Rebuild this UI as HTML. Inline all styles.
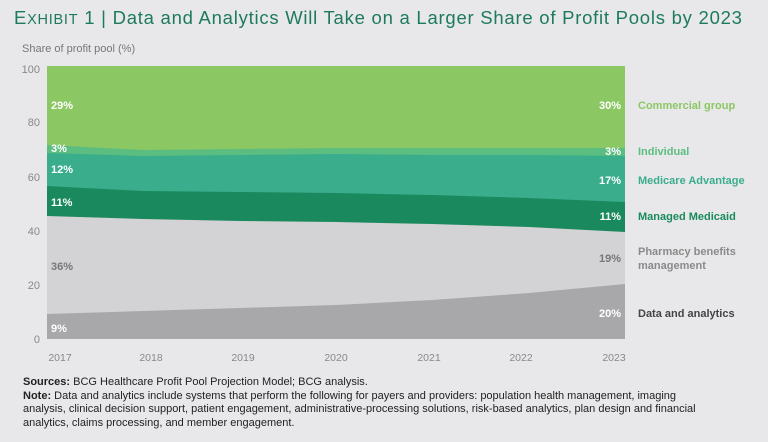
<!DOCTYPE html>
<html><head><meta charset="utf-8"><style>
body{margin:0;background:#e8e8ea;font-family:"Liberation Sans",sans-serif;}
.wrap{position:relative;width:768px;height:442px;overflow:hidden;background:#e8e8ea;}
.t{position:absolute;white-space:nowrap;}
</style></head><body><div class="wrap">
<div class="t" style="left:14px;top:7px;font-size:18.5px;letter-spacing:0.75px;color:#1e7a5c;">E<span style="font-size:14.5px">XHIBIT</span> 1 | Data and Analytics Will Take on a Larger Share of Profit Pools by 2023</div>
<div class="t" style="left:22px;top:43px;font-size:11px;color:#777;">Share of profit pool (%)</div>
<svg width="768" height="442" style="position:absolute;left:0;top:0">
<g font-family="Liberation Sans" font-size="11" fill="#888" text-anchor="end">
<text x="40" y="73">100</text><text x="40" y="126">80</text><text x="40" y="181">60</text><text x="40" y="235">40</text><text x="40" y="289">20</text><text x="40" y="343">0</text>
</g>
<rect x="47" y="66" width="578" height="273" fill="#8bc763"/>
<polygon points="47,145 143,150 240,149 336,148 432,148 529,148 625,148 625,339 47,339" fill="#5bbd80"/>
<polygon points="47,153 143,156 240,155 336,154 432,155 529,155 625,156 625,339 47,339" fill="#3aad8c"/>
<polygon points="47,186 143,191 240,192 336,193 432,195 529,198 625,202 625,339 47,339" fill="#1a8a5e"/>
<polygon points="47,216 143,219 240,221 336,222 432,224 529,227 625,232 625,339 47,339" fill="#d3d2d4"/>
<polygon points="47,314 143,311 240,308 336,305 432,300 529,293 625,284 625,339 47,339" fill="#a8a7a9"/>
<g font-family="Liberation Sans" font-size="10.5" fill="#888" text-anchor="middle">
<text x="60" y="361">2017</text><text x="151" y="361">2018</text><text x="243" y="361">2019</text><text x="336" y="361">2020</text><text x="429" y="361">2021</text><text x="521" y="361">2022</text><text x="614" y="361">2023</text>
</g>
<g font-family="Liberation Sans" font-size="11" font-weight="bold" fill="#fff">
<text x="51" y="109">29%</text><text x="51" y="152">3%</text><text x="51" y="173">12%</text><text x="51" y="206">11%</text><text x="51" y="270" fill="#777">36%</text><text x="51" y="332">9%</text>
</g>
<g font-family="Liberation Sans" font-size="11" font-weight="bold" fill="#fff" text-anchor="end">
<text x="621" y="109">30%</text><text x="621" y="155">3%</text><text x="621" y="184">17%</text><text x="621" y="220">11%</text><text x="621" y="262" fill="#777">19%</text><text x="621" y="317">20%</text>
</g>
<g font-family="Liberation Sans" font-size="11" font-weight="bold">
<text x="638" y="109" fill="#8bc763">Commercial group</text>
<text x="638" y="155" fill="#5bbd80">Individual</text>
<text x="638" y="184" fill="#3aad8c">Medicare Advantage</text>
<text x="638" y="220" fill="#1a8a5e">Managed Medicaid</text>
<text x="638" y="255" fill="#8a8a8a">Pharmacy benefits</text>
<text x="638" y="269" fill="#8a8a8a">management</text>
<text x="638" y="317" fill="#444">Data and analytics</text>
</g>
</svg>
<div class="t" style="left:23px;top:376px;font-size:11px;line-height:13.7px;color:#222;"><b>Sources:</b> BCG Healthcare Profit Pool Projection Model; BCG analysis.<br><b>Note:</b> Data and analytics include systems that perform the following for payers and providers: population health management, imaging<br>analysis, clinical decision support, patient engagement, administrative-processing solutions, risk-based analytics, plan design and financial<br>analytics, claims processing, and member engagement.</div>
</div></body></html>
